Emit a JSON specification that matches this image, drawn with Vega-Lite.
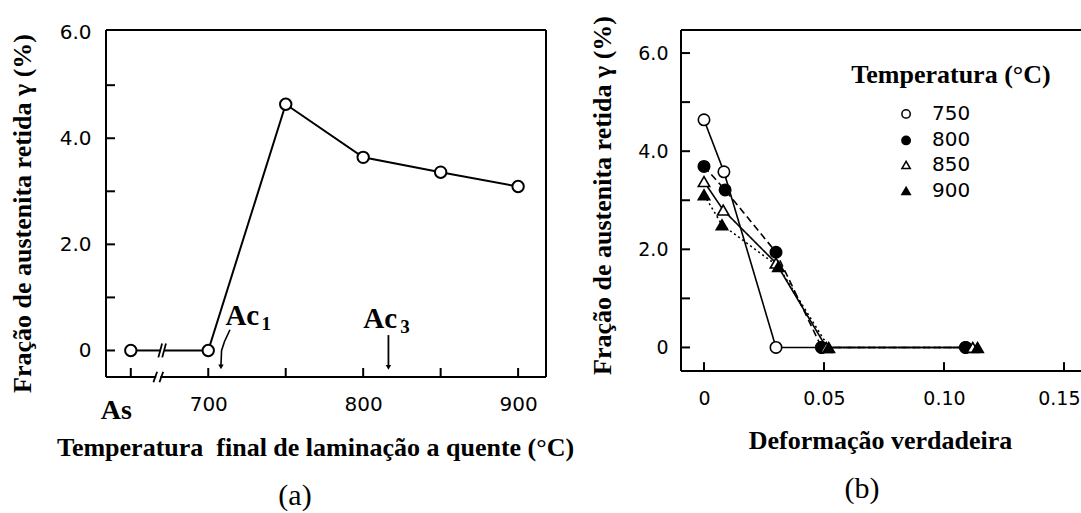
{
  "$schema": "https://vega.github.io/schema/vega-lite/v6.json",
  "background": "white",
  "padding": {"left": 9, "top": 15, "right": 0, "bottom": 0},
  "bounds": "flush",
  "spacing": 135,
  "resolve": {
    "scale": {"shape": "independent", "fill": "independent", "strokeDash": "independent"}
  },
  "config": {
    "view": {"stroke": null, "fill": null},
    "axis": {
      "domain": false, "ticks": false,
      "labelColor": "black", "labelFont": "DejaVu Sans", "labelFontSize": 20, "labelFlush": false, "labelOverlap": false,
      "titleColor": "black", "titleFont": "Liberation Serif", "titleFontSize": 26, "titleFontWeight": "bold", "grid": false
    },
    "title": {"font": "Liberation Serif", "fontSize": 30, "fontWeight": "normal", "color": "black"}
  },
  "hconcat": [
    {
      "width": 440, "height": 347,
      "title": {"text": "(a)", "orient": "bottom", "dx": -31, "offset": 21},
      "encoding": {
        "x": {"field": "x", "type": "quantitative", "scale": {"domain": [634, 918], "nice": false, "zero": false},
          "axis": {
            "values": [650, 700, 750, 800, 850, 900],
            "labelExpr": "datum.value == 650 ? 'As' : (datum.value % 100 == 0 ? datum.label : '')",
            "labelFont": {"condition": {"test": "datum.value == 650", "value": "Liberation Serif"}, "value": "DejaVu Sans"},
            "labelFontSize": {"condition": {"test": "datum.value == 650", "value": 28}, "value": 20},
            "labelFontWeight": {"condition": {"test": "datum.value == 650", "value": "bold"}, "value": "normal"},
            "labelOffset": {"condition": {"test": "datum.value == 650", "value": -15}, "value": 0},
            "labelPadding": {"condition": {"test": "datum.value == 650", "value": 19}, "value": 17},
            "title": "Temperatura\u00a0 final de laminação a quente (°C)",
            "titlePadding": 10, "titleX": 209
          }},
        "y": {"field": "y", "type": "quantitative", "scale": {"domain": [-0.5, 6.04], "nice": false, "zero": false},
          "axis": {
            "values": [0, 1, 2, 3, 4, 5, 6],
            "labelExpr": "datum.value == 0 ? '0' : (datum.value % 2 == 0 ? format(datum.value, '.1f') : '')",
            "labelPadding": 15,
            "title": "Fração de austenita retida γ (%)",
            "titlePadding": 24, "titleY": 183
          }}
      },
      "layer": [
        {
          "data": {"values": [
            {"x": 634, "y": -0.5, "x2": 918, "y2": -0.5},
            {"x": 634, "y": -0.5, "x2": 634, "y2": 6.04},
            {"x": 634, "y": 6.04, "x2": 918, "y2": 6.04},
            {"x": 918, "y": -0.5, "x2": 918, "y2": 6.04}
          ]},
          "mark": {"type": "rule", "color": "black", "strokeWidth": 2},
          "encoding": {"x2": {"field": "x2"}, "y2": {"field": "y2"}}
        },
        {
          "data": {"values": [{"x": 666.4, "y": -0.5, "x2": 669.1, "y2": -0.5}]},
          "mark": {"type": "rule", "color": "white", "strokeWidth": 4},
          "encoding": {"x2": {"field": "x2"}, "y2": {"field": "y2"}}
        },
        {
          "data": {"values": [
            {"x": 634, "y": 0, "x2": 639.8, "y2": 0},
            {"x": 634, "y": 1, "x2": 639.8, "y2": 1},
            {"x": 634, "y": 2, "x2": 639.8, "y2": 2},
            {"x": 634, "y": 3, "x2": 639.8, "y2": 3},
            {"x": 634, "y": 4, "x2": 639.8, "y2": 4},
            {"x": 634, "y": 5, "x2": 639.8, "y2": 5},
            {"x": 650, "y": -0.5, "x2": 650, "y2": -0.33},
            {"x": 700, "y": -0.5, "x2": 700, "y2": -0.33},
            {"x": 750, "y": -0.5, "x2": 750, "y2": -0.33},
            {"x": 800, "y": -0.5, "x2": 800, "y2": -0.33},
            {"x": 850, "y": -0.5, "x2": 850, "y2": -0.33},
            {"x": 900, "y": -0.5, "x2": 900, "y2": -0.33}
          ]},
          "mark": {"type": "rule", "color": "black", "strokeWidth": 2},
          "encoding": {"x2": {"field": "x2"}, "y2": {"field": "y2"}}
        },
        {
          "data": {"values": [
            {"x": 664.6, "y": -0.6, "x2": 667.0, "y2": -0.4},
            {"x": 668.5, "y": -0.6, "x2": 670.9, "y2": -0.4},
            {"x": 667.8, "y": -0.13, "x2": 670.2, "y2": 0.13},
            {"x": 670.3, "y": -0.13, "x2": 672.7, "y2": 0.13},
            {"x": 816.3, "y": 0.29, "x2": 816.3, "y2": -0.3}
          ]},
          "mark": {"type": "rule", "color": "black", "strokeWidth": 1.8},
          "encoding": {"x2": {"field": "x2"}, "y2": {"field": "y2"}}
        },
        {
          "data": {"values": [
            {"x": 650, "y": 0, "seg": "a"}, {"x": 669, "y": 0, "seg": "a"},
            {"x": 671.5, "y": 0, "seg": "b"}, {"x": 700, "y": 0, "seg": "b"},
            {"x": 750, "y": 4.64, "seg": "b"}, {"x": 800, "y": 3.64, "seg": "b"},
            {"x": 850, "y": 3.36, "seg": "b"}, {"x": 900, "y": 3.09, "seg": "b"}
          ]},
          "mark": {"type": "line", "color": "black", "strokeWidth": 2},
          "encoding": {"detail": {"field": "seg"}}
        },
        {
          "data": {"values": [
            {"x": 714, "y": 0.39}, {"x": 710.5, "y": 0.17}, {"x": 708.6, "y": 0.0}, {"x": 708.2, "y": -0.28}
          ]},
          "mark": {"type": "line", "color": "black", "strokeWidth": 1.6},
          "encoding": {}
        },
        {
          "data": {"values": [{"x": 708.2, "y": -0.31}, {"x": 816.3, "y": -0.32}]},
          "mark": {"type": "point", "shape": "triangle-down", "filled": true, "color": "black", "size": 30, "opacity": 1}
        },
        {
          "data": {"values": [
            {"x": 650, "y": 0}, {"x": 700, "y": 0}, {"x": 750, "y": 4.64},
            {"x": 800, "y": 3.64}, {"x": 850, "y": 3.36}, {"x": 900, "y": 3.09}
          ]},
          "mark": {"type": "point", "shape": "circle", "filled": true, "fill": "white", "stroke": "black", "strokeWidth": 2, "size": 130, "opacity": 1}
        },
        {
          "data": {"values": [{"x": 722, "y": 0.48, "t": "Ac"}, {"x": 811, "y": 0.42, "t": "Ac"}]},
          "mark": {"type": "text", "font": "Liberation Serif", "fontWeight": "bold", "fontSize": 29, "baseline": "alphabetic", "align": "center", "color": "black"},
          "encoding": {"text": {"field": "t"}}
        },
        {
          "data": {"values": [{"x": 737.5, "y": 0.39, "t": "1"}, {"x": 827, "y": 0.33, "t": "3"}]},
          "mark": {"type": "text", "font": "Liberation Serif", "fontWeight": "bold", "fontSize": 19, "baseline": "alphabetic", "align": "center", "color": "black"},
          "encoding": {"text": {"field": "t"}}
        }
      ]
    },
    {
      "width": 400, "height": 341,
      "title": {"text": "(b)", "orient": "bottom", "dx": -19, "offset": 21},
      "encoding": {
        "x": {"field": "x", "type": "quantitative", "scale": {"domain": [-0.00958, 0.15708], "nice": false, "zero": false},
          "axis": {
            "values": [0, 0.05, 0.1, 0.15],
            "labelExpr": "datum.value == 0 ? '0' : format(datum.value, '.2f')",
            "labelFontSize": 19, "labelPadding": 18,
            "labelAlign": {"condition": {"test": "datum.value > 0.12", "value": "right"}, "value": "center"},
            "labelOffset": {"condition": {"test": "datum.value > 0.12", "value": 16}, "value": 0},
            "title": "Deformação verdadeira", "titlePadding": 19, "titleX": 199
          }},
        "y": {"field": "y", "type": "quantitative", "scale": {"domain": [-0.48, 6.47], "nice": false, "zero": false},
          "axis": {
            "values": [0, 1, 2, 3, 4, 5, 6],
            "labelExpr": "datum.value == 0 ? '0' : (datum.value % 2 == 0 ? format(datum.value, '.1f') : '')",
            "labelFontSize": 19, "labelPadding": 13,
            "title": "Fração de austenita retida γ (%)",
            "titlePadding": 22, "titleY": 165
          }},
        "shape": {"field": "T", "type": "nominal", "legend": null,
          "scale": {"domain": ["750", "800", "850", "900"], "range": ["circle", "circle", "triangle-up", "triangle-up"]}},
        "fill": {"field": "T", "type": "nominal", "legend": null,
          "scale": {"domain": ["750", "800", "850", "900"], "range": ["white", "black", "white", "black"]}}
      },
      "layer": [
        {
          "data": {"values": [
            {"x": -0.00958, "y": 6.47, "x2": 0.15708, "y2": 6.47},
            {"x": -0.00958, "y": -0.48, "x2": 0.15708, "y2": -0.48},
            {"x": -0.00958, "y": -0.48, "x2": -0.00958, "y2": 6.47}
          ]},
          "mark": {"type": "rule", "color": "black", "strokeWidth": 2},
          "encoding": {"x2": {"field": "x2"}, "y2": {"field": "y2"}, "shape": null, "fill": null}
        },
        {
          "data": {"values": [
            {"x": -0.00958, "y": 0, "x2": -0.00583, "y2": 0},
            {"x": -0.00958, "y": 1, "x2": -0.00583, "y2": 1},
            {"x": -0.00958, "y": 2, "x2": -0.00583, "y2": 2},
            {"x": -0.00958, "y": 3, "x2": -0.00583, "y2": 3},
            {"x": -0.00958, "y": 4, "x2": -0.00583, "y2": 4},
            {"x": -0.00958, "y": 5, "x2": -0.00583, "y2": 5},
            {"x": -0.00958, "y": 6, "x2": -0.00583, "y2": 6},
            {"x": 0, "y": -0.48, "x2": 0, "y2": -0.3},
            {"x": 0.05, "y": -0.48, "x2": 0.05, "y2": -0.3},
            {"x": 0.1, "y": -0.48, "x2": 0.1, "y2": -0.3},
            {"x": 0.15, "y": -0.48, "x2": 0.15, "y2": -0.3}
          ]},
          "mark": {"type": "rule", "color": "black", "strokeWidth": 2},
          "encoding": {"x2": {"field": "x2"}, "y2": {"field": "y2"}, "shape": null, "fill": null}
        },
        {
          "data": {"name": "series"},
          "mark": {"type": "line", "color": "black", "strokeWidth": 1.6},
          "encoding": {
            "detail": {"field": "T"},
            "shape": null, "fill": null,
            "strokeDash": {"field": "T", "type": "nominal", "legend": null,
              "scale": {"domain": ["750", "800", "850", "900"], "range": [[1, 0], [7, 4], [1, 0], [2, 3]]}}
          }
        },
        {
          "data": {"name": "series"},
          "mark": {"type": "point", "filled": true, "stroke": "black", "strokeWidth": 1.6, "size": 130, "opacity": 1}
        },
        {
          "data": {"values": [
            {"T": "750", "x": 0.0842, "y": 4.76},
            {"T": "800", "x": 0.0842, "y": 4.22},
            {"T": "850", "x": 0.0842, "y": 3.72},
            {"T": "900", "x": 0.0842, "y": 3.19}
          ]},
          "layer": [
            {"mark": {"type": "point", "filled": true, "stroke": "black", "strokeWidth": 1.5, "size": 70, "opacity": 1}},
            {"mark": {"type": "text", "font": "DejaVu Sans", "fontSize": 20, "align": "left", "baseline": "middle", "dx": 26, "color": "black"},
              "encoding": {"text": {"field": "T"}, "shape": null, "fill": null}}
          ]
        },
        {
          "data": {"values": [{"x": 0.1029, "y": 5.39, "t": "Temperatura (°C)"}]},
          "mark": {"type": "text", "font": "Liberation Serif", "fontWeight": "bold", "fontSize": 26, "baseline": "alphabetic", "align": "center", "color": "black"},
          "encoding": {"text": {"field": "t"}, "shape": null, "fill": null}
        }
      ]
    }
  ],
  "datasets": {
    "series": [
      {"T": "750", "x": 0, "y": 4.64}, {"T": "750", "x": 0.0083, "y": 3.58}, {"T": "750", "x": 0.03, "y": 0},
      {"T": "750", "x": 0.049, "y": 0}, {"T": "750", "x": 0.109, "y": 0},
      {"T": "800", "x": 0, "y": 3.69}, {"T": "800", "x": 0.0088, "y": 3.21}, {"T": "800", "x": 0.03, "y": 1.94},
      {"T": "800", "x": 0.049, "y": 0}, {"T": "800", "x": 0.109, "y": 0},
      {"T": "850", "x": 0, "y": 3.38}, {"T": "850", "x": 0.008, "y": 2.8}, {"T": "850", "x": 0.03, "y": 1.72},
      {"T": "850", "x": 0.051, "y": 0}, {"T": "850", "x": 0.112, "y": 0},
      {"T": "900", "x": 0, "y": 3.11}, {"T": "900", "x": 0.0075, "y": 2.5}, {"T": "900", "x": 0.031, "y": 1.65},
      {"T": "900", "x": 0.052, "y": 0}, {"T": "900", "x": 0.114, "y": 0}
    ]
  }
}
